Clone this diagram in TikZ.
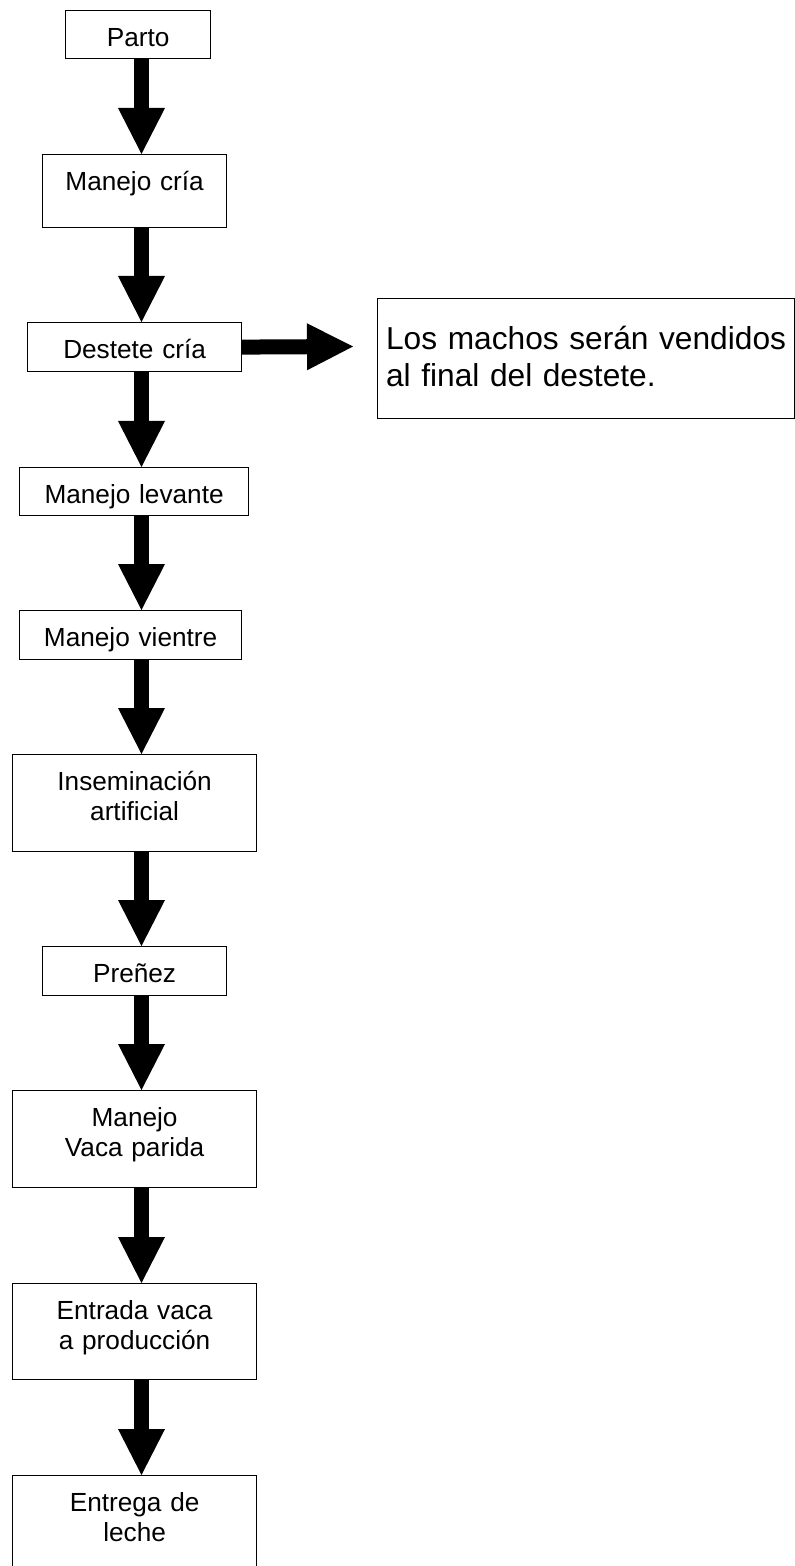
\documentclass[tikz,border=0pt]{standalone}
\usepackage{fontspec}
\setmainfont{Liberation Sans}
\usetikzlibrary{arrows.meta}
\tikzset{
  stepbox/.style={draw,line width=0.6pt,anchor=north west,inner sep=0pt,align=center,
    text height=18pt,font=\fontsize{13.1pt}{15pt}\selectfont},
  notebox/.style={draw,line width=0.6pt,anchor=north west,inner xsep=4.25pt,inner ysep=0pt,
    align=left,text height=25.65pt,font=\fontsize{15.85pt}{18.35pt}\selectfont},
  flecha/.style={line width=7.5pt,-{Triangle[length=23pt,width=23.5pt,line width=0pt]}}
}

\begin{document}
\begin{tikzpicture}[x=0.5pt,y=-0.5pt]
\useasboundingbox (0,0) rectangle (795,1566);
\clip (0,0) rectangle (795,1566);
\coordinate (eje) at (141.5,0);
% etapas
\node[stepbox,text width=72.5pt,text depth=6pt] (parto) at (65,10) {Parto};
\node[stepbox,text width=92pt,text depth=18.5pt] (cria) at (42,154) {Manejo cría};
\node[stepbox,text width=107pt,text depth=6.5pt] (destete) at (27,322) {Destete cría};
\node[stepbox,text width=114.5pt,text depth=6pt] (levante) at (19,467) {Manejo levante};
\node[stepbox,text width=111pt,text depth=6.5pt] (vientre) at (19,610) {Manejo vientre};
\node[stepbox,text width=122pt,text depth=30.5pt] (insem) at (12,754) {Inseminación\\artificial};
\node[stepbox,text width=92pt,text depth=6.5pt] (prenez) at (42,946) {Preñez};
\node[stepbox,text width=122pt,text depth=30.5pt] (parida) at (12,1090) {Manejo\\Vaca parida};
\node[stepbox,text width=122pt,text depth=30pt] (entrada) at (12,1283) {Entrada vaca\\a producción};
\node[stepbox,text width=122pt,text depth=30.5pt] (leche) at (12,1475) {Entrega de\\leche};
\node[notebox,text width=200pt,text depth=34.35pt] (machos) at (377,298)
  {Los machos serán vendidos\\al final del destete.};
% flechas
\foreach \a/\b in {parto/cria,cria/destete,destete/levante,levante/vientre,vientre/insem,
                   insem/prenez,prenez/parida,parida/entrada,entrada/leche}
  \draw[flecha] (\a.south -| eje) -- (\b.north -| eje);
\coordinate (venta) at (353,346.5);
\draw[flecha] (destete.east) -- (venta);
\end{tikzpicture}
\end{document}
